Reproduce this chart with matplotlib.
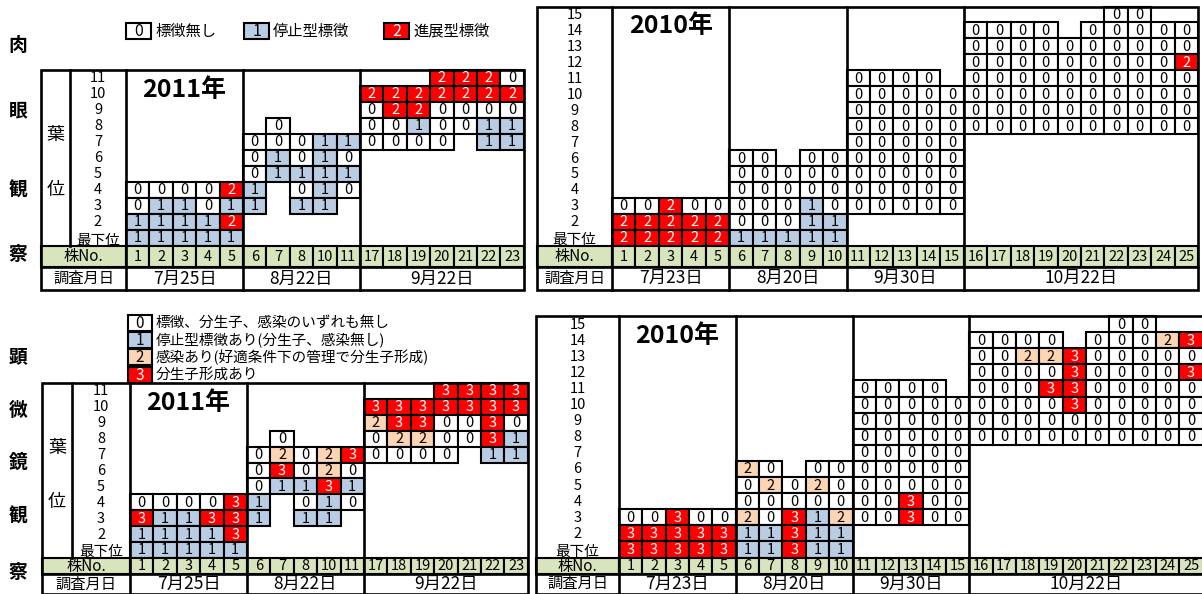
import matplotlib.pyplot as plt
from matplotlib.patches import Rectangle

plt.rcParams['font.family'] = ['Noto Sans CJK JP', 'DejaVu Sans']

# leaf positions, top to bottom
leaves_2011 = ['11', '10', '9', '8', '7', '6', '5', '4', '3', '2', '最下位']
leaves_2010 = ['15', '14', '13', '12', '11', '10', '9', '8', '7', '6', '5', '4',
               '3', '2', '最下位']

plants_2011 = [1, 2, 3, 4, 5, 6, 7, 8, 10, 11, 17, 18, 19, 20, 21, 22, 23]
plants_2010 = list(range(1, 26))

dates_2011 = ['7月25日', '8月22日', '9月22日']
sizes_2011 = [5, 5, 7]
dates_2010 = ['7月23日', '8月20日', '9月30日', '10月22日']
sizes_2010 = [5, 5, 5, 10]

# grade per leaf (row) and plant, '-' = no leaf, spaces split the survey dates
naked_2011 = [
    "----- ----- ---2220",
    "----- ----- 2222222",
    "----- ----- 0220000",
    "----- -0--- 0010011",
    "----- 00011 0000-11",
    "----- 01010 -------",
    "----- 01111 -------",
    "00002 1-010 -------",
    "01101 1-11- -------",
    "11112 ----- -------",
    "11111 ----- -------",
]

naked_2010 = [
    "----- ----- ----- ------00--",
    "----- ----- ----- 0000-00000",
    "----- ----- ----- 0000000000",
    "----- ----- ----- 0000000002",
    "----- ----- 0000- 0000000000",
    "----- ----- 00000 0000000000",
    "----- ----- 00000 0000000000",
    "----- ----- 00000 0000000000",
    "----- ----- 00000 ----------",
    "----- 00-00 00000 ----------",
    "----- 00000 00000 ----------",
    "----- 00000 00000 ----------",
    "00200 00010 00000 ----------",
    "22222 00011 ----- ----------",
    "22222 11111 ----- ----------",
]

micro_2011 = [
    "----- ----- ---3333",
    "----- ----- 3333333",
    "----- ----- 2330030",
    "----- -0--- 0220031",
    "----- 02023 0000-11",
    "----- 03020 -------",
    "----- 01131 -------",
    "00003 1-010 -------",
    "31133 1-11- -------",
    "11113 ----- -------",
    "11111 ----- -------",
]

micro_2010 = [
    "----- ----- ----- ------00--",
    "----- ----- ----- 0000-00023",
    "----- ----- ----- 0022300000",
    "----- ----- ----- 0000300003",
    "----- ----- 0000- 0003300000",
    "----- ----- 00000 0000300000",
    "----- ----- 00000 0000000000",
    "----- ----- 00000 0000000000",
    "----- ----- 00000 ----------",
    "----- 20-00 00000 ----------",
    "----- 02020 00000 ----------",
    "----- 00000 00300 ----------",
    "00300 20312 00300 ----------",
    "33333 11311 ----- ----------",
    "33333 11311 ----- ----------",
]

RED = '#FF0000'
BLUE = '#B8CCE4'
PEACH = '#FCD5B4'
GREEN = '#D8E4BC'

naked_colors = {'0': 'white', '1': BLUE, '2': RED}
micro_colors = {'0': 'white', '1': BLUE, '2': PEACH, '3': RED}

naked_legend = [('0', '標徴無し'), ('1', '停止型標徴'), ('2', '進展型標徴')]
micro_legend = [('0', '標徴、分生子、感染のいずれも無し'),
                ('1', '停止型標徴あり(分生子、感染無し)'),
                ('2', '感染あり(好適条件下の管理で分生子形成)'),
                ('3', '分生子形成あり')]

CELL_LW = 1.5
FRAME_LW = 1.9


def grade_box(ax, x, y, w, h, v, colors, size=10.5):
    fc = colors[v]
    ax.add_patch(Rectangle((x, y), w, h, facecolor=fc, edgecolor='black',
                           lw=CELL_LW, zorder=2))
    ax.text(x + w / 2, y + h / 2 + 0.5, v, ha='center', va='center', fontsize=size,
            color='white' if fc == RED else 'black', zorder=4)


def draw_panel(ax, grid, leaves, plants, dates, sizes, colors, year,
               left, label_x, top, col_w, row_h, no_h, date_h, leaf_x=None):
    n_rows = len(leaves)
    right = label_x + len(plants) * col_w
    grid_bottom = top + n_rows * row_h
    no_bottom = grid_bottom + no_h
    bottom = no_bottom + date_h

    # graded cells
    for i, row in enumerate(grid):
        for j, v in enumerate(row.replace(' ', '')):
            if v == '-':
                continue
            grade_box(ax, label_x + j * col_w, top + i * row_h, col_w, row_h,
                      v, colors)

    # leaf labels
    lab_left = left if leaf_x is None else leaf_x
    for i, name in enumerate(leaves):
        dy = 2.5 if name == '最下位' else 0.5
        ax.text((lab_left + label_x) / 2, top + (i + 0.5) * row_h + dy, name,
                ha='center', va='center', fontsize=10.5, zorder=4)
    if leaf_x is not None:
        ax.plot([leaf_x, leaf_x], [top, grid_bottom], color='black',
                lw=FRAME_LW, zorder=3)
        ax.text((left + leaf_x) / 2, top + 0.37 * (grid_bottom - top),
                '葉', ha='center', va='center', fontsize=13)
        ax.text((left + leaf_x) / 2, top + 0.68 * (grid_bottom - top),
                '位', ha='center', va='center', fontsize=13)

    # plant number row
    ax.add_patch(Rectangle((left, grid_bottom), label_x - left, no_h,
                           facecolor=GREEN, edgecolor='black', lw=CELL_LW, zorder=2))
    ax.text((left + label_x) / 2, grid_bottom + no_h / 2 + 0.5, '株No.',
            ha='center', va='center', fontsize=11, zorder=4)
    for j, p in enumerate(plants):
        x = label_x + j * col_w
        ax.add_patch(Rectangle((x, grid_bottom), col_w, no_h, facecolor=GREEN,
                               edgecolor='black', lw=CELL_LW, zorder=2))
        ax.text(x + col_w / 2, grid_bottom + no_h / 2 + 0.5, str(p),
                ha='center', va='center', fontsize=10.5, zorder=4)

    # survey dates
    ax.text((left + label_x) / 2, no_bottom + date_h / 2, '調査月日',
            ha='center', va='center', fontsize=11, zorder=4)
    start = 0
    for d, n in zip(dates, sizes):
        x0 = label_x + start * col_w
        ax.text(x0 + n * col_w / 2, no_bottom + date_h / 2, d,
                ha='center', va='center', fontsize=12.5, zorder=4)
        start += n
        if start < len(plants):
            x1 = label_x + start * col_w
            ax.plot([x1, x1], [top, bottom], color='black', lw=FRAME_LW, zorder=3)

    ax.plot([label_x, label_x], [top, bottom], color='black', lw=FRAME_LW, zorder=3)
    ax.plot([left, right], [no_bottom, no_bottom], color='black', lw=FRAME_LW, zorder=3)
    ax.add_patch(Rectangle((left, top), right - left, bottom - top, fill=False,
                           edgecolor='black', lw=FRAME_LW, zorder=3))

    ax.text(label_x + 2.5 * col_w, top + 1.25 * row_h, year, ha='center',
            va='center', fontsize=18, fontweight='bold', zorder=4)


fig = plt.figure(figsize=(12.02, 5.94), dpi=100)
ax = fig.add_axes([0, 0, 1, 1])
ax.set_xlim(0, 1202)
ax.set_ylim(594, 0)
ax.axis('off')

# naked-eye survey
for ch, y in zip('肉眼観察', [45, 111, 190, 255]):
    ax.text(18, y, ch, ha='center', va='center', fontsize=13.5, fontweight='bold')
for (v, label), bx in zip(naked_legend, [126, 244, 384]):
    grade_box(ax, bx, 23, 25, 16, v, naked_colors, size=11.5)
    ax.text(bx + 29, 31, label, ha='left', va='center', fontsize=11)

draw_panel(ax, naked_2011, leaves_2011, plants_2011, dates_2011, sizes_2011,
           naked_colors, '2011年', left=41, label_x=126, top=70, col_w=23.4,
           row_h=16, no_h=21, date_h=23, leaf_x=70)
draw_panel(ax, naked_2010, leaves_2010, plants_2010, dates_2010, sizes_2010,
           naked_colors, '2010年', left=537, label_x=612, top=6.5, col_w=23.45,
           row_h=15.95, no_h=21, date_h=23)

# microscope survey
for ch, y in zip('顕微鏡観察', [357, 410, 462, 516, 573]):
    ax.text(18, y, ch, ha='center', va='center', fontsize=13.5, fontweight='bold')
for k, (v, label) in enumerate(micro_legend):
    y = 315 + k * 17.2
    grade_box(ax, 128, y, 24, 16, v, micro_colors, size=11)
    ax.text(156, y + 8, label, ha='left', va='center', fontsize=10.5)

draw_panel(ax, micro_2011, leaves_2011, plants_2011, dates_2011, sizes_2011,
           micro_colors, '2011年', left=42, label_x=130, top=383, col_w=23.4,
           row_h=15.9, no_h=16, date_h=20, leaf_x=72)
draw_panel(ax, micro_2010, leaves_2010, plants_2010, dates_2010, sizes_2010,
           micro_colors, '2010年', left=536, label_x=619, top=316, col_w=23.35,
           row_h=16.1, no_h=16, date_h=20)

fig.savefig('out.png', dpi=100)
